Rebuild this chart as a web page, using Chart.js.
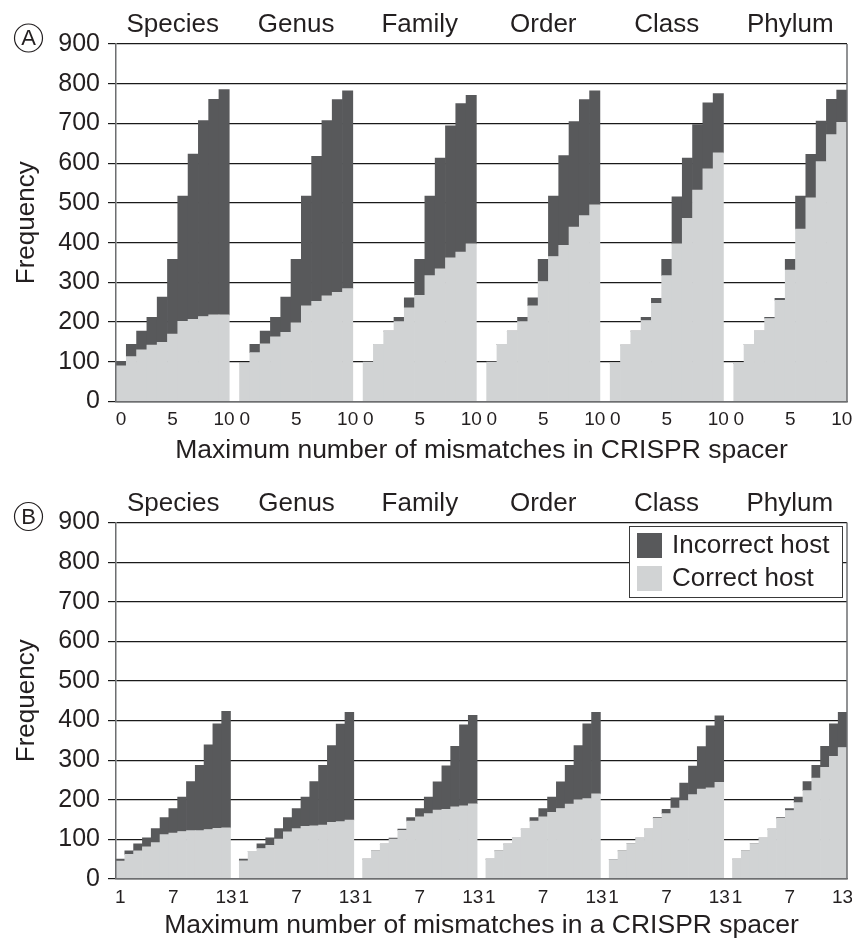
<!DOCTYPE html>
<html><head><meta charset="utf-8">
<script src="https://cdn.jsdelivr.net/npm/chart.js@4"></script>
<style>
html,body{margin:0;padding:0;background:#fff;overflow:hidden;}
#wrap{position:relative;width:852px;height:940px;overflow:hidden;background:#fff;}
canvas{position:absolute;left:0;}
</style></head><body>
<div id="wrap">
<canvas id="chartA" width="852" height="470" style="top:0;width:852px;height:470px"></canvas>
<canvas id="chartB" width="852" height="470" style="top:475px;width:852px;height:470px"></canvas>
</div>
<script>
// ---------- data ----------
const ranks = ["Species", "Genus", "Family", "Order", "Class", "Phylum"];
const mismatchesA = ["0","1","2","3","4","5","6","7","8","9","10"];
const mismatchesB = ["1","2","3","4","5","6","7","8","9","10","11","12","13"];
const tickLabelsA = ["0","5","10"];
const tickLabelsB = ["1","7","13"];
const yTicks = [0,100,200,300,400,500,600,700,800,900];
const seriesNames = ["Correct host", "Incorrect host"];

// Panel A (rows: Species, Genus, Family, Order, Class, Phylum)
const correctA = [
  [90,113,130,142,149,170,202,207,214,218,218],
  [97,123,145,163,174,198,241,252,266,275,284],
  [99,144,177,201,236,267,317,334,362,376,397],
  [99,144,177,201,241,302,365,393,439,468,495],
  [96,142,177,204,247,317,397,461,532,586,626],
  [96,144,177,209,255,331,434,513,604,672,703]
];
const incorrectA = [
  [11,31,47,70,114,188,315,416,493,543,567],
  [0,21,32,49,89,160,276,365,441,485,498],
  [0,0,0,11,25,91,200,279,332,374,374],
  [0,0,0,11,20,56,152,226,266,292,287],
  [0,0,0,8,13,41,118,152,165,166,149],
  [0,0,0,3,5,27,83,109,102,89,81]
];
// Panel B
const correctB = [
  [45,62,71,81,92,112,116,120,122,122,125,128,129],
  [46,70,77,85,101,119,127,133,134,136,143,145,149],
  [50,71,88,101,123,146,157,165,174,176,182,185,190],
  [50,71,88,103,126,146,157,168,178,189,200,203,215],
  [49,71,89,103,126,153,165,179,198,213,227,230,244],
  [50,71,89,103,126,153,173,193,223,255,282,310,332]
];
const incorrectB = [
  [5,9,18,23,35,43,62,87,124,165,214,264,294],
  [4,0,12,19,26,36,51,74,112,151,194,246,272],
  [0,0,0,2,3,9,21,42,71,110,153,204,223],
  [0,0,0,0,0,9,21,39,67,98,137,189,206],
  [0,0,0,0,0,2,11,26,44,72,107,157,168],
  [0,0,0,0,0,2,5,14,23,32,53,82,89]
];

// ---------- style ----------
const FONT = "'Liberation Sans', Arial, Helvetica, sans-serif";
const TEXT = "#231f20";
const DARK = "#58595b";
const LIGHT = "#d1d3d4";
const AXIS = "#6d6e70";
Chart.defaults.font.family = FONT;
Chart.defaults.color = TEXT;

function buildLabels(mm) {
  const out = [];
  ranks.forEach((r, g) => { if (g > 0) out.push(""); mm.forEach(m => out.push(m)); });
  return out;
}
function flatten(rows) {
  const out = [];
  rows.forEach((row, g) => { if (g > 0) out.push(null); row.forEach(v => out.push(v)); });
  return out;
}

const decorPlugin = {
  id: "decor",
  afterDatasetsDraw(chart, args, o) {
    const ctx = chart.ctx, ca = chart.chartArea;
    ctx.save();
    ctx.strokeStyle = AXIS; ctx.lineWidth = 1.5;
    ctx.beginPath(); ctx.moveTo(ca.right, ca.top); ctx.lineTo(ca.right, ca.bottom); ctx.stroke();
    ctx.restore();
  },
  afterDraw(chart, args, o) {
    const ctx = chart.ctx, ca = chart.chartArea, xs = chart.scales.x;
    const n = o.n;
    ctx.save();
    ctx.fillStyle = TEXT;
    ctx.textAlign = "center"; ctx.textBaseline = "middle";
    ctx.font = "26px " + FONT;
    ranks.forEach((r, g) => {
      const s = g * (n + 1), e = s + n - 1;
      const cx = (xs.getPixelForValue(s) + xs.getPixelForValue(e)) / 2;
      ctx.fillText(r, cx, ca.top - 19);
    });
    // circled panel letter
    const lx = 28.5, ly = ca.top - 6;
    ctx.strokeStyle = TEXT; ctx.lineWidth = 1.2;
    ctx.beginPath(); ctx.arc(lx, ly, 14, 0, Math.PI * 2); ctx.stroke();
    ctx.font = "22px " + FONT;
    ctx.fillText(o.letter, lx, ly + 1);
    // legend
    if (o.legend) {
      const bx = ca.right - 218, by = ca.top + 3.5, bw = 213, bh = 71;
      ctx.fillStyle = "#fff"; ctx.fillRect(bx, by, bw, bh);
      ctx.strokeStyle = "#3a3a3a"; ctx.lineWidth = 1;
      ctx.strokeRect(bx + 0.5, by + 0.5, bw, bh);
      const items = chart.data.datasets.slice().reverse();
      items.forEach((ds, i) => {
        const sy = by + 7 + i * 33;
        ctx.fillStyle = ds.backgroundColor;
        ctx.fillRect(bx + 8, sy, 25, 25);
        ctx.fillStyle = TEXT; ctx.textAlign = "left"; ctx.textBaseline = "middle";
        ctx.font = "26px " + FONT;
        ctx.fillText(ds.label, bx + 43, sy + 13);
      });
    }
    ctx.restore();
  }
};

function makeChart(id, mm, ticksShown, correct, incorrect, xTitle, letter, topPad, xHeight, legend) {
  const labels = buildLabels(mm);
  return new Chart(document.getElementById(id), {
    type: "bar",
    data: {
      labels: labels,
      datasets: [
        { label: seriesNames[0], data: flatten(correct), backgroundColor: LIGHT, borderWidth: 0,
          categoryPercentage: 1, barPercentage: 1, stack: "s" },
        { label: seriesNames[1], data: flatten(incorrect), backgroundColor: DARK, borderWidth: 0,
          categoryPercentage: 1, barPercentage: 1, stack: "s" }
      ]
    },
    plugins: [decorPlugin],
    options: {
      responsive: false, animation: false, devicePixelRatio: 1,
      layout: { padding: { left: 0, right: 5, top: topPad, bottom: 0 } },
      plugins: {
        legend: { display: false }, tooltip: { enabled: false },
        decor: { n: mm.length, letter: letter, legend: legend }
      },
      scales: {
        x: {
          stacked: true,
          grid: { display: false, drawTicks: false },
          border: { display: true, color: AXIS, width: 1.5, z: 1 },
          ticks: {
            autoSkip: false, maxRotation: 0, minRotation: 0, padding: 7,
            font: { size: 19 }, color: TEXT,
            callback: (v, i) => (ticksShown.includes(labels[i]) ? labels[i] : "")
          },
          title: { display: true, text: xTitle, font: { size: 26.5 }, color: TEXT,
                   padding: { top: 0, bottom: 3.2 } },
          afterFit: s => { s.height = xHeight; s.paddingLeft = 0; s.paddingRight = 0; }
        },
        y: {
          stacked: true, min: 0, max: 900,
          afterBuildTicks: s => { s.ticks = yTicks.map(v => ({ value: v })); },
          grid: { color: "#1a1a1a", lineWidth: 1.2, tickLength: 8 },
          border: { display: true, color: AXIS, width: 1.5, z: 1 },
          ticks: { font: { size: 25 }, color: TEXT, padding: 8 },
          title: { display: true, text: "Frequency", font: { size: 26 }, color: TEXT,
                   padding: { top: 11, bottom: 0 } },
          afterFit: s => { s.width = 116; s.paddingTop = 0; s.paddingBottom = 0; }
        }
      }
    }
  });
}

makeChart("chartA", mismatchesA, tickLabelsA, correctA, incorrectA,
  "Maximum number of mismatches in CRISPR spacer", "A", 44, 68.5, false);
makeChart("chartB", mismatchesB, tickLabelsB, correctB, incorrectB,
  "Maximum number of mismatches in a CRISPR spacer", "B", 47.5, 66, true);
</script>
</body></html>
